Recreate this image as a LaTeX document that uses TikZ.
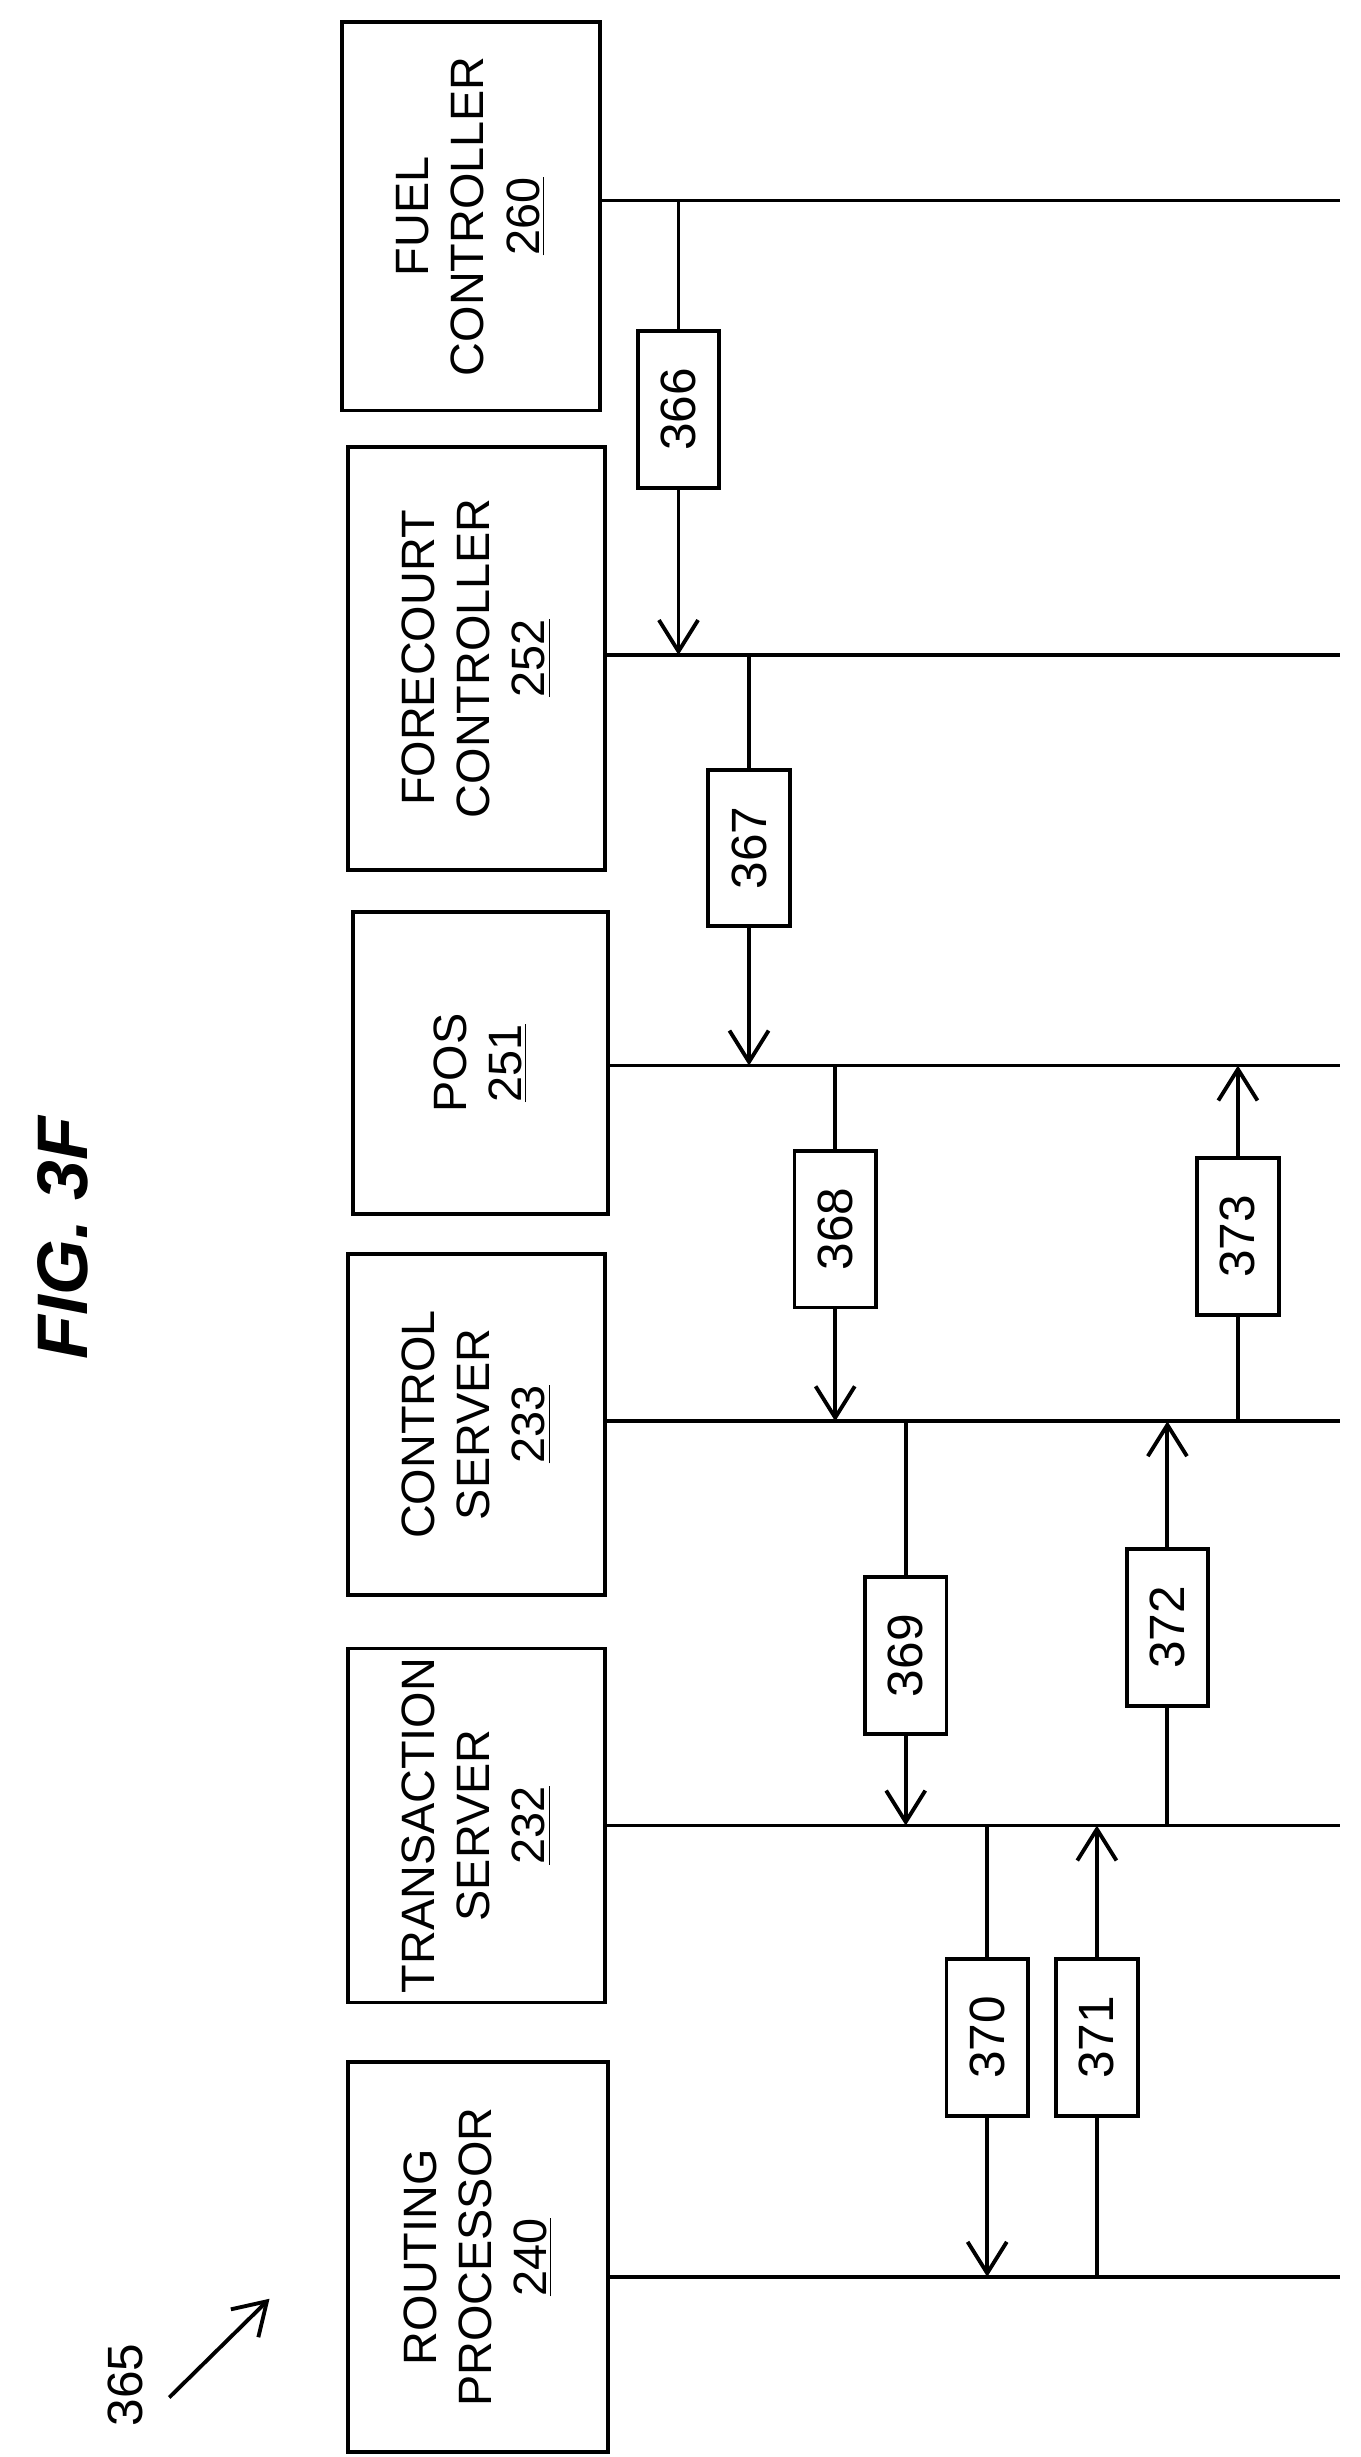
\documentclass[tikz,border=0pt]{standalone}
\usepackage{fontspec}
\setmainfont{Liberation Sans}
\usetikzlibrary{arrows.meta}
\tikzset{
	box/.style={draw,line width=1.4pt,rotate=90,align=center,font=\fontsize{17}{20}\selectfont,inner sep=2pt},
	lbl/.style={draw,fill=white,line width=1.4pt,rotate=90,minimum width=2cm,minimum height=1.04cm,font=\fontsize{18}{20}\selectfont,inner sep=1pt},
	life/.style={line width=1.4pt},
	msg/.style={line width=1.4pt,-{Straight Barb[length=4mm,width=5mm,line width=1.4pt]}}
}
\begin{document}
\begin{tikzpicture}[x=0.02cm,y=-0.02cm]
	\useasboundingbox (0,0) rectangle (868,1568);

	% participants: name / center x / center y / height (vertical) / width / line y
	\foreach \n/\cx/\cy/\h/\w/\ly/\t in {
		fuel/300.5/138/4.96/3.30/128/{FUEL\\CONTROLLER\\\underline{260}},
		fcc/304/420/5.40/3.28/418/{FORECOURT\\CONTROLLER\\\underline{252}},
		pos/306.5/678.5/3.86/3.26/680/{POS\\\underline{251}},
		ctl/304/909/4.36/3.28/907/{CONTROL\\SERVER\\\underline{233}},
		trs/304/1165/4.52/3.28/1165/{TRANSACTION\\SERVER\\\underline{232}},
		rtp/305/1440.5/4.98/3.32/1453/{ROUTING\\PROCESSOR\\\underline{240}}}
	{
		\node[box,minimum width=\h cm,minimum height=\w cm] (\n) at (\cx,\cy) {\t};
		\coordinate (\n-a) at (\cx+\w*25,\ly);
		\coordinate (\n-b) at (855,\ly);
		\draw[life] (\n-a) -- (\n-b);
	}

	% messages
	\coordinate (m366a) at (433,128);  \coordinate (m366b) at (433,418);
	\coordinate (m367a) at (478,418);  \coordinate (m367b) at (478,680);
	\coordinate (m368a) at (533,680);  \coordinate (m368b) at (533,907);
	\coordinate (m373a) at (790,907);  \coordinate (m373b) at (790,680);
	\coordinate (m369a) at (578,907);  \coordinate (m369b) at (578,1165);
	\coordinate (m372a) at (745,1165); \coordinate (m372b) at (745,907);
	\coordinate (m370a) at (630,1165); \coordinate (m370b) at (630,1453);
	\coordinate (m371a) at (700,1453); \coordinate (m371b) at (700,1165);

	\draw[msg] (m366a) -- node[lbl,pos=0.46] (n366) {366} (m366b);
	\draw[msg] (m367a) -- node[lbl,pos=0.47] (n367) {367} (m367b);
	\draw[msg] (m368a) -- node[lbl,pos=0.46] (n368) {368} (m368b);
	\draw[msg] (m373a) -- node[lbl,pos=0.52] (n373) {373} (m373b);
	\draw[msg] (m369a) -- node[lbl,pos=0.58] (n369) {369} (m369b);
	\draw[msg] (m372a) -- node[lbl,pos=0.49] (n372) {372} (m372b);
	\draw[msg] (m370a) -- node[lbl,pos=0.47] (n370) {370} (m370b);
	\draw[msg] (m371a) -- node[lbl,pos=0.53] (n371) {371} (m371b);

	% title and reference
	\node[rotate=90,font=\fontsize{26}{30}\selectfont\bfseries\itshape] (title) at (40,790) {FIG. 3F};
	\node[rotate=90,font=\fontsize{18}{20}\selectfont] (ref) at (80,1522) {365};
	\coordinate (refa) at (108,1530);
	\coordinate (refb) at (172,1467);
	\draw[msg] (refa) -- (refb);
\end{tikzpicture}
\end{document}
